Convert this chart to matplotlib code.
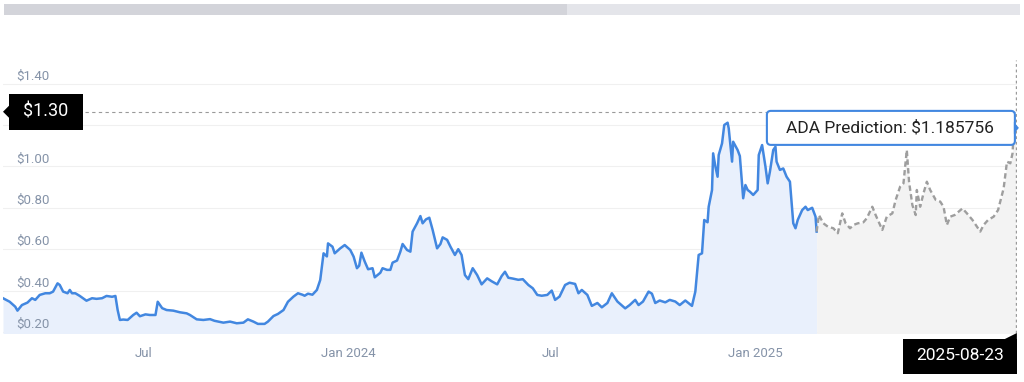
import pandas as pd
import matplotlib
matplotlib.use('Agg')
import matplotlib.pyplot as plt
import matplotlib.dates as mdates
import matplotlib.transforms as mtrans
from matplotlib.patches import Rectangle, Polygon, FancyBboxPatch

plt.rcParams['font.family'] = ['Roboto', 'DejaVu Sans']

start_date = '2023-02-25'

# days after start_date / price in USD
hist_day = [0, 6, 11, 13, 17, 22, 26, 29, 33, 38, 42, 45, 49, 51, 54, 58, 60, 62, 65, 69,
            75, 80, 84, 89, 93, 98, 101, 103, 105, 108, 112, 117, 120, 123, 128, 132, 137, 139, 143, 147,
            153, 159, 165, 168, 174, 180, 186, 190, 198, 204, 210, 216, 220, 225, 229, 235, 238, 243, 247, 252,
            256, 261, 265, 269, 271, 274, 278, 282, 285, 288, 291, 292, 296, 298, 303, 307, 312, 315, 318, 320,
            322, 325, 328, 332, 334, 339, 341, 345, 348, 350, 354, 357, 359, 363, 366, 368, 372, 375, 377, 380,
            383, 386, 390, 393, 395, 399, 402, 406, 409, 412, 415, 418, 422, 426, 430, 435, 439, 444, 448, 451,
            454, 458, 463, 467, 472, 476, 480, 484, 489, 493, 496, 500, 505, 509, 514, 517, 520, 525, 529, 534,
            538, 543, 547, 552, 559, 563, 568, 571, 575, 580, 583, 586, 590, 595, 599, 604, 608, 613, 619, 622,
            625, 628, 630, 633, 634, 637, 638, 640, 642, 643, 646, 648, 651, 652, 655, 656, 660, 662, 665, 667,
            669, 671, 674, 678, 679, 682, 685, 687, 689, 692, 694, 695, 698, 701, 704, 707, 710, 712, 714, 718,
            721, 723, 727, 730, 731]
hist_price = [0.363, 0.346, 0.322, 0.303, 0.330, 0.342, 0.363, 0.355, 0.379, 0.387, 0.387, 0.395, 0.435, 0.427, 0.395, 0.387, 0.403, 0.387, 0.387, 0.374,
              0.351, 0.363, 0.360, 0.363, 0.374, 0.370, 0.374, 0.306, 0.258, 0.260, 0.258, 0.282, 0.293, 0.276, 0.285, 0.282, 0.282, 0.346, 0.315, 0.306,
              0.303, 0.295, 0.290, 0.282, 0.261, 0.258, 0.262, 0.254, 0.245, 0.250, 0.242, 0.245, 0.261, 0.250, 0.239, 0.239, 0.250, 0.277, 0.287, 0.306,
              0.346, 0.371, 0.387, 0.380, 0.375, 0.385, 0.380, 0.403, 0.451, 0.580, 0.565, 0.628, 0.612, 0.580, 0.604, 0.620, 0.596, 0.564, 0.508, 0.520,
              0.583, 0.540, 0.503, 0.508, 0.464, 0.486, 0.508, 0.500, 0.500, 0.535, 0.545, 0.588, 0.625, 0.596, 0.588, 0.685, 0.725, 0.760, 0.725, 0.744,
              0.752, 0.693, 0.604, 0.625, 0.657, 0.645, 0.612, 0.572, 0.600, 0.572, 0.475, 0.455, 0.508, 0.475, 0.430, 0.459, 0.445, 0.430, 0.470, 0.491,
              0.462, 0.458, 0.452, 0.455, 0.427, 0.411, 0.379, 0.375, 0.379, 0.400, 0.355, 0.371, 0.427, 0.438, 0.432, 0.387, 0.403, 0.379, 0.326, 0.340,
              0.319, 0.340, 0.387, 0.347, 0.314, 0.330, 0.355, 0.330, 0.347, 0.395, 0.385, 0.340, 0.352, 0.343, 0.355, 0.347, 0.330, 0.352, 0.326, 0.395,
              0.572, 0.580, 0.741, 0.730, 0.805, 0.886, 1.063, 1.000, 0.950, 1.055, 1.111, 1.200, 1.211, 1.184, 1.023, 1.119, 1.079, 1.050, 0.846, 0.910,
              0.886, 0.878, 0.862, 0.886, 1.055, 1.103, 0.999, 0.918, 0.974, 1.079, 1.095, 1.023, 0.983, 0.990, 0.950, 0.926, 0.725, 0.701, 0.741, 0.789,
              0.805, 0.789, 0.800, 0.757, 0.685]

pred_day = [731, 733, 737, 741, 746, 750, 754, 757, 761, 764, 768, 773, 776, 781, 784, 786, 790, 794, 799, 802,
            806, 809, 812, 814, 817, 820, 821, 824, 827, 830, 833, 838, 842, 845, 848, 851, 855, 862, 866, 871,
            875, 878, 881, 885, 890, 894, 899, 902, 905, 907, 908, 910]
pred_price = [0.685, 0.765, 0.725, 0.709, 0.701, 0.677, 0.773, 0.725, 0.701, 0.717, 0.725, 0.730, 0.749, 0.805, 0.765, 0.741, 0.693, 0.757, 0.773, 0.838,
              0.902, 0.918, 1.079, 0.926, 0.813, 0.765, 0.886, 0.805, 0.870, 0.926, 0.886, 0.838, 0.830, 0.805, 0.717, 0.757, 0.765, 0.797, 0.773, 0.741,
              0.709, 0.685, 0.717, 0.741, 0.757, 0.789, 0.894, 1.023, 1.015, 1.063, 1.160, 1.186]

price_ticks = [0.2, 0.4, 0.6, 0.8, 1.0, 1.2, 1.4]
date_ticks = ['2023-07-01', '2024-01-01', '2024-07-01', '2025-01-01']
date_tick_labels = ['Jul', 'Jan 2024', 'Jul', 'Jan 2025']

hover_price = 1.264
hover_price_label = '$1.30'
hover_date = '2025-08-23'
hover_text = 'ADA Prediction: $1.185756'

BLUE = '#4287e0'
AXIS_TEXT = '#8593a8'
W, H = 1024, 382


def px_box(fig, x, y, w, h, color):
    r = Rectangle((x, y), w, h, fc=color, ec='none', transform=mtrans.IdentityTransform())
    fig.add_artist(r)


def main():
    t0 = pd.Timestamp(start_date)
    hist_x = t0 + pd.to_timedelta(hist_day, unit='D')
    pred_x = t0 + pd.to_timedelta(pred_day, unit='D')
    t_end = pd.Timestamp(hover_date)

    fig = plt.figure(figsize=(W / 100, H / 100), dpi=100)
    ax = fig.add_axes([3 / W, 49 / H, 1014 / W, 273 / H])
    ax.set_xlim(t0, t_end + pd.Timedelta(days=1))
    ax.set_ylim(0.195, 1.514)
    for s in ax.spines.values():
        s.set_visible(False)
    ax.set_yticks(price_ticks)
    ax.set_yticklabels([])
    ax.tick_params(axis='y', length=0)
    ax.grid(axis='y', color='#f0f0f0', lw=0.8)
    ax.set_axisbelow(True)

    ax.set_xticks(pd.to_datetime(date_ticks))
    ax.set_xticklabels(date_tick_labels)
    ax.tick_params(axis='x', length=0, pad=10, labelsize=9.5, labelcolor=AXIS_TEXT)

    ax.fill_between(hist_x, hist_price, 0, color='#e9f0fc', lw=0)
    ax.fill_between(pred_x, pred_price, 0, color='#f3f3f3', lw=0)
    ax.plot(hist_x, hist_price, color=BLUE, lw=1.8, solid_joinstyle='round')
    ax.plot(pred_x, pred_price, color='#9e9e9e', lw=1.7, ls=(0, (2.3, 1.4)))

    # price labels sit inside the plot, just above the grid lines
    # (the one under the hover flag is hidden, as in the original)
    ytrans = mtrans.offset_copy(ax.get_yaxis_transform(), fig=fig, x=0, y=4, units='dots')
    for p in price_ticks:
        if abs(p - hover_price) < 0.1:
            continue
        ax.text(0.0135, p, '$%.2f' % p, transform=ytrans, ha='left', va='baseline',
                fontsize=9.5, color=AXIS_TEXT, zorder=1)

    # crosshair
    ax.axhline(hover_price, xmin=0.081, color='#9a9a9a', lw=0.8, ls=(0, (3, 3)))
    ax.axvline(t_end, color='#9a9a9a', lw=1, ls=(0, (2, 2)))

    ident = mtrans.IdentityTransform()
    hx, hy = ax.transData.transform((mdates.date2num(t_end), hover_price))
    x0 = ax.transAxes.transform((0, 0))[0]
    # price flag on the left
    px_box(fig, x0 + 6, hy - 18, 74, 36, 'black')
    fig.add_artist(Polygon([(x0, hy), (x0 + 6, hy + 6), (x0 + 6, hy - 6)], fc='black', ec='none', transform=ident))
    fig.text(x0 + 43, hy, hover_price_label, transform=ident, ha='center', va='center',
             fontsize=13, color='white')

    # date flag at the bottom
    ab = ax.transAxes.transform((0, 0))[1]
    px_box(fig, hx - 113, ab - 41, 114, 35, 'black')
    fig.add_artist(Polygon([(hx - 11, ab - 6), (hx + 1, ab), (hx + 1, ab - 6)], fc='black', ec='none', transform=ident))
    fig.text(hx - 56, ab - 23, hover_date, transform=ident, ha='center', va='center',
             fontsize=12.5, color='white')

    # tooltip at the last prediction point
    ex, ey = ax.transData.transform((mdates.date2num(pred_x[-1]), pred_price[-1]))
    tip = FancyBboxPatch((ex - 249, ey - 17), 248, 34, boxstyle='round,pad=0,rounding_size=4',
                         fc='white', ec=BLUE, lw=1.5, transform=ident)
    fig.add_artist(tip)
    fig.add_artist(Polygon([(ex - 2, ey + 6), (ex + 3, ey), (ex - 2, ey - 6)], fc=BLUE, ec='none', transform=ident))
    fig.text(ex - 126, ey, hover_text, transform=ident, ha='center', va='center',
             fontsize=12.5, color='#222222')

    # navigator bar on top
    px_box(fig, 4, 367, 563, 11, '#d3d4da')
    px_box(fig, 567, 367, 453, 11, '#e4e5ea')

    fig.savefig('out.png', dpi=100)


if __name__ == '__main__':
    main()
